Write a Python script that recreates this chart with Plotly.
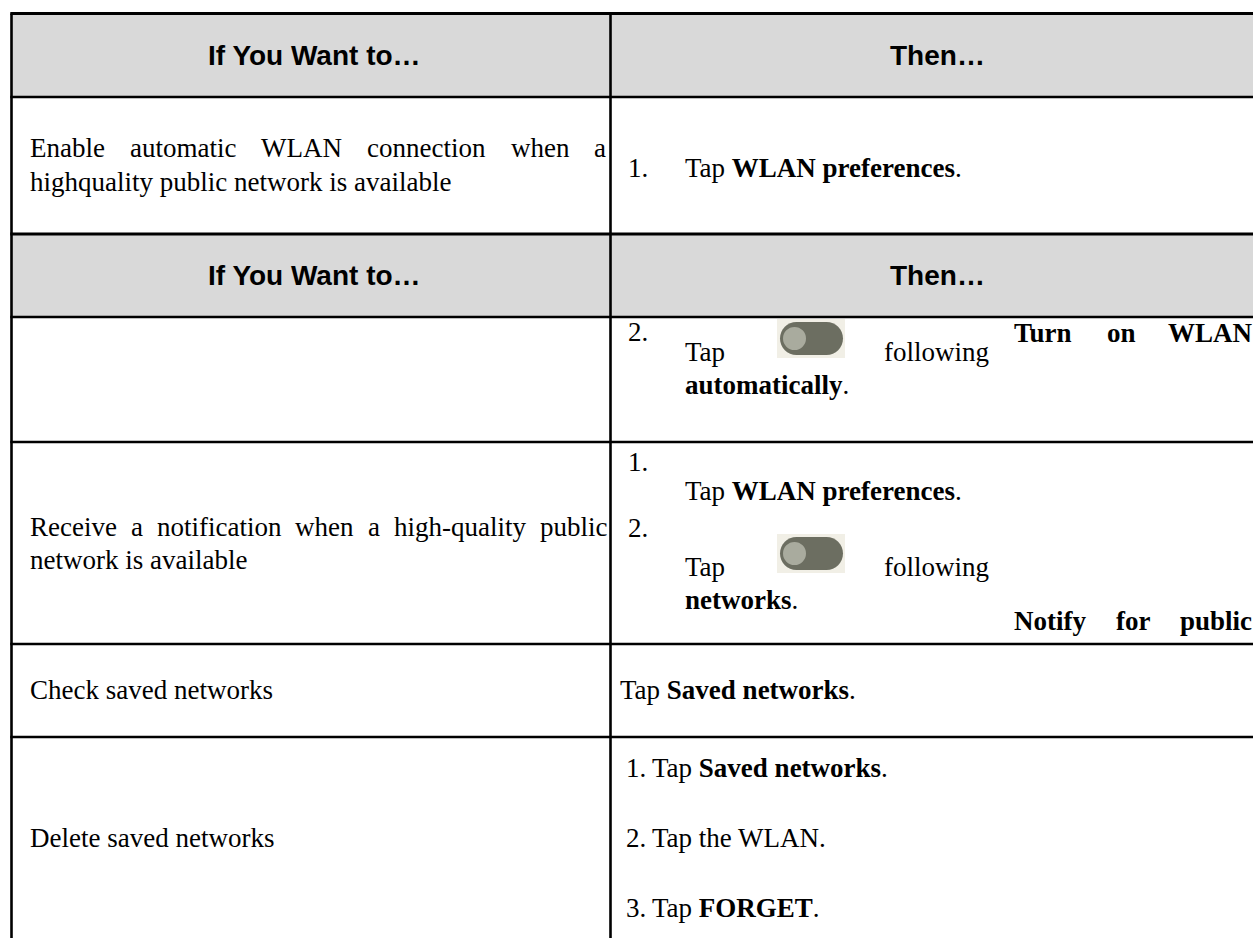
import plotly.graph_objects as go

W, H = 1253, 938

# ---- table geometry (pixels, y measured from top) ----
X_LEFT, X_DIV, X_RIGHT = 11.5, 610.5, 1290
ROW_LINES = [13.5, 97, 234, 317, 442, 644, 737]
ROW_LINE_W = [3.2, 2.4, 3.2, 2.4, 2.6, 2.6, 2.6]
HEADER_BANDS = [(13.5, 97), (234, 317)]

# ---- text content ----
HEADER_LEFT = "If You Want to…"
HEADER_RIGHT = "Then…"
ROW1_LEFT_JUST = ["Enable", "automatic", "WLAN", "connection", "when", "a"]
ROW1_LEFT_L2 = "highquality public network is available"
ROW1_RIGHT = ["1.", "Tap <b>WLAN preferences</b>."]
ROW2_RIGHT = ["2.", "Tap", "following", "<b>automatically</b>."]
ROW2_RIGHT_JUST = ["Turn", "on", "WLAN"]
ROW3_LEFT_JUST = ["Receive", "a", "notification", "when", "a", "high-quality", "public"]
ROW3_LEFT_L2 = "network is available"
ROW3_RIGHT = ["1.", "Tap <b>WLAN preferences</b>.", "2.", "Tap", "following", "<b>networks</b>."]
ROW3_RIGHT_JUST = ["Notify", "for", "public"]
ROW4 = ["Check saved networks", "Tap <b>Saved networks</b>."]
ROW5_LEFT = "Delete saved networks"
ROW5_NUMS = ["1.", "2.", "3."]
ROW5_STEPS = ["Tap <b>Saved networks</b>.", "Tap the WLAN.", "Tap <b>FORGET</b>."]

SERIF = "Liberation Serif, Times New Roman, serif"
SANS = "Liberation Sans, Arial, sans-serif"
FS = 27
HFS = 28

# Times metrics (1/1000 em)
REG = dict(zip("abcdefghijklmnopqrstuvwxyz",
               [444, 500, 444, 500, 444, 333, 500, 500, 278, 278, 500, 278, 778,
                500, 500, 500, 500, 333, 389, 278, 500, 500, 722, 500, 500, 444]))
REG.update(dict(zip("ABCDEFGHIJKLMNOPQRSTUVWXYZ",
                    [722, 667, 667, 722, 611, 556, 722, 722, 333, 389, 722, 611, 889,
                     722, 722, 556, 722, 667, 556, 611, 722, 722, 944, 722, 722, 611])))
REG.update({" ": 250, ".": 250, "-": 333})
BOLD = dict(zip("abcdefghijklmnopqrstuvwxyz",
                [500, 556, 444, 556, 444, 333, 500, 556, 278, 333, 556, 278, 833,
                 556, 500, 556, 556, 444, 389, 333, 556, 500, 722, 500, 500, 444]))
BOLD.update(dict(zip("ABCDEFGHIJKLMNOPQRSTUVWXYZ",
                     [722, 667, 722, 722, 667, 611, 778, 778, 389, 500, 778, 667, 944,
                      722, 778, 611, 778, 722, 556, 667, 722, 722, 1000, 722, 722, 667])))
BOLD.update({" ": 250, ".": 250, "-": 333})


def tw(s, bold=False, size=FS):
    t = BOLD if bold else REG
    return sum(t.get(c, 500) for c in s) * size / 1000.0


def justify(words, x0, x1, bold=False):
    widths = [tw(w, bold) for w in words]
    gap = (x1 - x0 - sum(widths)) / (len(words) - 1)
    xs, x = [], x0
    for w in widths:
        xs.append(x)
        x += w + gap
    return xs


fig = go.Figure()
shapes = []
annotations = []


def txt(x, y, s, family=SERIF, size=FS, xanchor="left", bold=False):
    if bold:
        s = "<b>" + s + "</b>"
    annotations.append(dict(x=x, y=y, xref="x", yref="y", text=s, showarrow=False,
                            xanchor=xanchor, yanchor="middle",
                            font=dict(family=family, size=size, color="#000000")))


# header bands
for (y0, y1) in HEADER_BANDS:
    shapes.append(dict(type="rect", x0=X_LEFT, x1=X_RIGHT, y0=y0, y1=y1,
                       fillcolor="#d9d9d9", line=dict(width=0), layer="below"))
    yc = (y0 + y1) / 2
    txt((X_LEFT + X_DIV) / 2 + 3, yc, HEADER_LEFT, SANS, HFS, "center", True)
    txt(937, yc, HEADER_RIGHT, SANS, HFS, "center", True)

# grid lines
for y, lw in zip(ROW_LINES, ROW_LINE_W):
    shapes.append(dict(type="line", x0=X_LEFT - 1.2, x1=X_RIGHT, y0=y, y1=y,
                       line=dict(color="#000000", width=lw)))
for x in (X_LEFT, X_DIV):
    shapes.append(dict(type="line", x0=x, x1=x, y0=ROW_LINES[0], y1=H + 20,
                       line=dict(color="#000000", width=2.6)))


# toggles
def stadium(x0, x1, y0, y1):
    r = (y1 - y0) / 2
    k = 0.5523 * r
    return (f"M {x0 + r},{y0} L {x1 - r},{y0} "
            f"C {x1 - r + k},{y0} {x1},{y0 + r - k} {x1},{y0 + r} "
            f"C {x1},{y0 + r + k} {x1 - r + k},{y1} {x1 - r},{y1} "
            f"L {x0 + r},{y1} "
            f"C {x0 + r - k},{y1} {x0},{y0 + r + k} {x0},{y0 + r} "
            f"C {x0},{y0 + r - k} {x0 + r - k},{y0} {x0 + r},{y0} Z")


TOGGLE_Y = [338.5, 553.5]
for yc in TOGGLE_Y:
    shapes.append(dict(type="rect", x0=777, x1=845, y0=yc - 19.5, y1=yc + 19.5,
                       fillcolor="#f1efe6", line=dict(width=0)))
    shapes.append(dict(type="path", path=stadium(780, 843, yc - 16.5, yc + 16.5),
                       fillcolor="#6c6e61", line=dict(width=0)))
    shapes.append(dict(type="circle", x0=783, x1=806, y0=yc - 11.5, y1=yc + 11.5,
                       fillcolor="#a9ab9e", line=dict(width=0)))

# row 1
for x, w in zip(justify(ROW1_LEFT_JUST, 28, 604), ROW1_LEFT_JUST):
    txt(x, 148, w)
txt(28, 182, ROW1_LEFT_L2)
txt(626, 168, ROW1_RIGHT[0])
txt(683, 168, ROW1_RIGHT[1])

# row 2
txt(626, 332, ROW2_RIGHT[0])
txt(683, 352, ROW2_RIGHT[1])
txt(882, 352, ROW2_RIGHT[2])
txt(683, 385, ROW2_RIGHT[3])
for x, w in zip(justify(ROW2_RIGHT_JUST, 1012, 1250, True), ROW2_RIGHT_JUST):
    txt(x, 333, w, bold=True)

# row 3
for x, w in zip(justify(ROW3_LEFT_JUST, 28, 605), ROW3_LEFT_JUST):
    txt(x, 527, w)
txt(28, 560, ROW3_LEFT_L2)
txt(626, 462, ROW3_RIGHT[0])
txt(683, 491, ROW3_RIGHT[1])
txt(626, 528, ROW3_RIGHT[2])
txt(683, 567, ROW3_RIGHT[3])
txt(882, 567, ROW3_RIGHT[4])
txt(683, 600, ROW3_RIGHT[5])
for x, w in zip(justify(ROW3_RIGHT_JUST, 1012, 1250, True), ROW3_RIGHT_JUST):
    txt(x, 621, w, bold=True)

# row 4
txt(28, 690, ROW4[0])
txt(618, 690, ROW4[1])

# row 5
txt(28, 838, ROW5_LEFT)
for yy, n, s in zip([768, 838, 908], ROW5_NUMS, ROW5_STEPS):
    txt(624, yy, n)
    txt(650, yy, s)

fig.update_layout(
    width=W, height=H, margin=dict(l=0, r=0, t=0, b=0),
    paper_bgcolor="#ffffff", plot_bgcolor="#ffffff",
    xaxis=dict(range=[0, W], visible=False, fixedrange=True),
    yaxis=dict(range=[H, 0], visible=False, fixedrange=True),
    shapes=shapes, annotations=annotations, showlegend=False,
)

fig.write_html("out.html", config={"displayModeBar": False},
               post_script="document.body.style.margin='0';document.body.style.overflow='hidden';")
